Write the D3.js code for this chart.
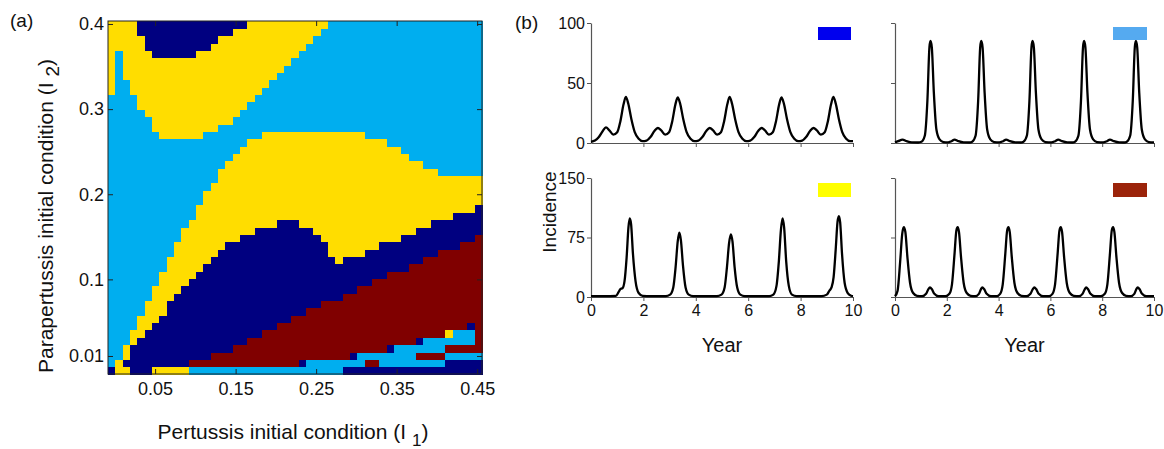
<!DOCTYPE html>
<html><head><meta charset="utf-8">
<script src="https://cdn.jsdelivr.net/npm/d3@7"></script>
<style>
body{margin:0;background:#fff}
svg text{font-family:"Liberation Sans",Arial,Helvetica,sans-serif;fill:#111}
</style>
</head><body>
<svg id="c" width="1164" height="449"></svg>
<script>
// ---------------- Panel (a) data ----------------
const NCOL = 51, NROW = 48;
const xTicksA = [0.05, 0.15, 0.25, 0.35, 0.45];
const yTicksA = [0.01, 0.1, 0.2, 0.3, 0.4];
// per column (I1 index), first row index (from bottom) of each zone
const maroonTop = [0,0,0,0,0,0,0,0,0,0,0, 2,2,2,3,3,3,4,4,5,5,6,6,7,7,8,8,9,9,10,10,10,11,11,12,12,13,13,14,14,14,15,15,16,16,17,17,17,18,18,19];
const navyTop = [1,0,2,4,5,6,7,8,10,11,12, 13,14,15,16,17,18,18,19,19,20, 20,20,21,21,21,20,20,19,18,16, 15,16,16,16,17,17,18,18,18,19, 19,20,20,21,21,21,22,22,22,23];
const yellowTop = [1,2,4,6,8,10,12,14,16,18,20, 21,23,25,26,28,29,30,31,32,32, 33,33,33,33,33,33,33,33,33,33,33,33,33,33, 32,32,32,31,31,30,29,29,28,28, 27,27,27,27,27,27];
const upperYellowBottom = [38,44,40,38,36,35,33,32,32,32,32,32,32,33,33,34,34,35,36,37,38,39,40,41,42,43,44,45,46,47,
  48,48,48,48,48,48,48,48,48,48,48,48,48,48,48,48,48,48,48,48,48];
const topNavyBottom = [48,48,48,48,46,44,43,43,43,43,43,43,44,44,45,46,46,47,47,
  48,48,48,48,48,48,48,48,48,48,48,48,48,48,48,48,48,48,48,48,48,48,48,48,48,48,48,48,48,48,48,48];
// irregular cells in the bottom rows (run lengths, '.' = regular zone)
const bottomRuns = [
  [['.',1],['Y',2],['.',3],['Y',5],['L',21],['D',19]],
  [['.',26],['D',1],['L',8],['.',2],['L',9],['D',5]],
  [['.',33],['D',1],['L',8],['.',4],['L',5]],
  [['.',38],['D',1],['L',7],['.',5]],
  [['.',42],['D',1],['L',7],['.',1]],
  [['.',46],['Y',1],['L',3],['.',1]],
  [['.',49],['D',1],['.',1]]
];
const zoneColors = {D:'#000080', L:'#00aeef', Y:'#ffdd00', M:'#800000'};

// ---------------- Panel (b) data ----------------
const yearTicks = [0,2,4,6,8,10];
const tBlue = [0,0.15,0.3,0.45,0.57,0.7,0.85,1.0,1.12,1.24,1.33,1.42,1.54,1.67,1.82,1.97,
  2.12,2.27,2.42,2.55,2.68,2.83,2.98,3.1,3.22,3.31,3.4,3.52,3.65,3.8,3.95,
  4.1,4.25,4.4,4.53,4.66,4.81,4.96,5.08,5.2,5.29,5.38,5.5,5.63,5.78,5.93,
  6.08,6.23,6.38,6.51,6.64,6.79,6.94,7.06,7.18,7.27,7.36,7.48,7.61,7.76,7.91,
  8.06,8.21,8.36,8.49,8.62,8.77,8.92,9.04,9.16,9.25,9.34,9.46,9.59,9.74,9.89,10];
const vBlue = [1,2,5,10,13,10.5,7,9,18,32,38.5,33,20,9,3.5,1.5,
  2,5,10,12.5,10.5,7,9,18,32,38,33,20,9,3.5,1.5,
  2,5,10,12.5,10.5,7,9,18,32,38.5,33,20,9,3.5,1.5,
  2,5,10,12.5,10.5,7,9,18,32,38,33,20,9,3.5,1.5,
  2,5,10,12.5,10.5,7,9,18,32,38.5,33,20,9,3.5,1.5,1.5];
const tLight = [0,0.12,0.29,0.45,0.65,
  0.9,1.02,1.15,1.25,1.33,1.37,1.42,1.5,1.6,1.72,1.87,2.05,2.18,2.3,2.45,2.65,
  2.88,2.98,3.11,3.21,3.29,3.33,3.38,3.46,3.56,3.68,3.83,4.03,4.17,4.29,4.44,4.64,
  4.86,4.96,5.09,5.19,5.27,5.31,5.36,5.44,5.54,5.66,5.81,6.04,6.18,6.3,6.45,6.65,
  6.85,6.95,7.08,7.18,7.26,7.3,7.35,7.43,7.53,7.65,7.8,8.04,8.18,8.3,8.45,8.65,
  8.85,8.95,9.08,9.18,9.26,9.3,9.35,9.43,9.53,9.65,9.8,10];
const vLight = [0.5,1.5,2.8,1.5,0.5,
  0.4,1,6,35,80,85,80,42,11,3,0.8,0.5,1.5,2.8,1.5,0.5,
  0.4,1,6,35,80,85,80,42,11,3,0.8,0.5,1.5,2.8,1.5,0.5,
  0.4,1,6,35,80,85,80,42,11,3,0.8,0.5,1.5,2.8,1.5,0.5,
  0.4,1,6,35,80,85,80,42,11,3,0.8,0.5,1.5,2.8,1.5,0.5,
  0.4,1,6,35,80,85,80,42,11,3,0.8,0.5];
const tYellow = [0,0.5,0.95,1.05,1.12,1.2,1.28,1.36,1.43,1.48,1.53,1.6,1.7,1.82,1.97,2.3,
  2.85,3.02,3.14,3.23,3.31,3.37,3.43,3.51,3.61,3.73,3.9,4.3,
  4.8,4.98,5.1,5.19,5.27,5.34,5.4,5.48,5.58,5.7,5.87,6.3,
  6.8,6.96,7.08,7.17,7.25,7.31,7.37,7.45,7.55,7.67,7.85,8.3,
  8.8,9.0,9.1,9.18,9.26,9.34,9.41,9.46,9.51,9.58,9.68,9.8,9.93,10];
const vYellow = [1,1,1.5,6,10,11,20,50,88,99,92,55,20,5,1.5,1,
  1,3,12,38,70,81,72,40,12,3,1,1,
  1,3,12,38,68,79,70,38,12,3,1,1,
  1,3,14,45,85,99,88,45,14,3,1,1,
  1,3,8,12,25,60,95,102,94,55,18,5,1.5,1];
const tMaroon = [0,0.1,0.2,0.28,0.34,0.4,0.48,0.58,0.7,0.85,1.05,1.2,1.29,1.35,1.42,1.52,1.68,
  1.95,2.1,2.2,2.3,2.37,2.42,2.47,2.55,2.65,2.77,2.92,3.1,3.24,3.32,3.37,3.44,3.54,3.7,
  3.92,4.06,4.16,4.26,4.33,4.38,4.43,4.51,4.61,4.73,4.88,5.08,5.23,5.32,5.38,5.45,5.55,5.71,
  5.94,6.08,6.18,6.28,6.35,6.4,6.45,6.53,6.63,6.75,6.9,7.1,7.24,7.33,7.38,7.45,7.55,7.71,
  7.95,8.1,8.2,8.3,8.37,8.42,8.47,8.55,8.65,8.77,8.92,9.1,9.24,9.32,9.37,9.44,9.54,9.7,10];
const vMaroon = [1,8,45,80,88,82,50,18,5,1.5,1,4,10,12,10,4,1,
  1,4,16,55,84,88,82,50,18,5,1.5,1,4,10,12,10,4,1,
  1,4,16,55,84,88,82,50,18,5,1.5,1,4,10,12,10,4,1,
  1,4,16,55,84,88,82,50,18,5,1.5,1,4,10,12,10,4,1,
  1,4,16,55,84,88,82,50,18,5,1.5,1,4,10,12,10,4,1,1];

// ---------------- build grid ----------------
const bottomRows = bottomRuns.map(runs => runs.flatMap(([k,n]) => Array(n).fill(k)));
const cells = [];
for (let c = 0; c < NCOL; c++) {
  for (let r = 0; r < NROW; r++) {
    const o = r < bottomRows.length ? bottomRows[r][c] : '.';
    let k;
    if (o !== '.') k = o;
    else if (r < maroonTop[c]) k = 'M';
    else if (r < navyTop[c]) k = 'D';
    else if (r < yellowTop[c]) k = 'Y';
    else if (r < upperYellowBottom[c]) k = 'L';
    else if (r < topNavyBottom[c]) k = 'Y';
    else k = 'D';
    cells.push({c, r, k});
  }
}

const svg = d3.select('#c');
const AX = '#222';

// ---------------- panel (a) ----------------
const L0 = 108, R0 = 482, T0 = 21, B0 = 374;
const gx = d3.scaleBand().domain(d3.range(NCOL)).range([L0, R0]);
const gy = d3.scaleBand().domain(d3.range(NROW)).range([B0, T0]);
const hx = d3.scaleLinear().domain([-0.0085, 0.456]).range([L0, R0]);
const hy = d3.scaleLinear().domain([-0.01115, 0.4035]).range([B0, T0]);

svg.append('g').attr('shape-rendering','crispEdges')
  .selectAll('rect').data(cells).join('rect')
  .attr('x', d => gx(d.c)).attr('y', d => gy(d.r))
  .attr('width', gx.bandwidth() + 0.6).attr('height', gy.bandwidth() + 0.6)
  .attr('fill', d => zoneColors[d.k]);

function styleAxis(g, fs) {
  g.select('.domain').remove();
  g.selectAll('.tick line').attr('stroke', AX);
  g.selectAll('.tick text').attr('font-size', fs).attr('fill', '#111')
    .attr('font-family', '"Liberation Sans",Arial,sans-serif');
  g.attr('font-family', null).attr('font-size', null);
}
svg.append('g').attr('transform', `translate(0,${B0})`)
  .call(d3.axisBottom(hx).tickValues(xTicksA).tickFormat(d => String(d)).tickSize(-5).tickPadding(8))
  .call(g => styleAxis(g, 18));
svg.append('g').attr('transform', `translate(0,${T0})`)
  .call(d3.axisTop(hx).tickValues(xTicksA).tickFormat('').tickSize(-5))
  .call(g => styleAxis(g, 18));
svg.append('g').attr('transform', `translate(${L0},0)`)
  .call(d3.axisLeft(hy).tickValues(yTicksA).tickFormat(d => String(d)).tickSize(-5).tickPadding(4))
  .call(g => styleAxis(g, 18));
svg.append('g').attr('transform', `translate(${R0},0)`)
  .call(d3.axisRight(hy).tickValues(yTicksA).tickFormat('').tickSize(-5))
  .call(g => styleAxis(g, 18));
svg.append('rect').attr('x', L0).attr('y', T0).attr('width', R0 - L0).attr('height', B0 - T0)
  .attr('fill', 'none').attr('stroke', AX).attr('stroke-width', 1);

svg.append('text').attr('x', 10).attr('y', 27).attr('font-size', 19).text('(a)');
const xl = svg.append('text').attr('x', 293).attr('y', 439).attr('text-anchor', 'middle').attr('font-size', 21);
xl.append('tspan').text('Pertussis initial condition (I ');
xl.append('tspan').attr('dy', 7).attr('font-size', 17).text('1');
xl.append('tspan').attr('dy', -7).text(')');
const yl = svg.append('text').attr('transform', 'translate(53,216) rotate(-90)').attr('text-anchor', 'middle').attr('font-size', 21);
yl.append('tspan').text('Parapertussis initial condition (I ');
yl.append('tspan').attr('dy', 6).attr('font-size', 19).text('2');
yl.append('tspan').attr('dy', -6).text(')');

// ---------------- panel (b) ----------------
svg.append('text').attr('x', 515).attr('y', 29).attr('font-size', 19).text('(b)');
const panels = [
  {t: tBlue,   v: vBlue,   x0: 591, x1: 853,  y0: 143, y1: 23,  max: 100, yt: [0,50,100], ylab: true,  xlab: false, box: '#0000ee', bx: [818,851], by: [27,40]},
  {t: tLight,  v: vLight,  x0: 895, x1: 1154, y0: 143, y1: 23,  max: 100, yt: [0,50,100], ylab: false, xlab: false, box: '#55aaf0', bx: [1113,1147], by: [27,40]},
  {t: tYellow, v: vYellow, x0: 591, x1: 853,  y0: 297, y1: 178, max: 150, yt: [0,75,150], ylab: true,  xlab: true,  box: '#ffff00', bx: [818,851], by: [183,197]},
  {t: tMaroon, v: vMaroon, x0: 895, x1: 1154, y0: 297, y1: 178, max: 150, yt: [0,75,150], ylab: false, xlab: true,  box: '#9b230a', bx: [1113,1147], by: [183,197]}
];
panels.forEach(p => {
  const x = d3.scaleLinear().domain([0, 10]).range([p.x0, p.x1]);
  const y = d3.scaleLinear().domain([0, p.max]).range([p.y0, p.y1]);
  const g = svg.append('g');
  const ya = g.append('g').attr('transform', `translate(${p.x0},0)`)
    .call(d3.axisLeft(y).tickValues(p.yt).tickSizeInner(4).tickSizeOuter(0).tickPadding(2)
      .tickFormat(p.ylab ? (d => String(d)) : ''));
  const xa = g.append('g').attr('transform', `translate(0,${p.y0})`)
    .call(d3.axisBottom(x).tickValues(p.xlab ? yearTicks : yearTicks.slice(1)).tickSizeInner(4).tickSizeOuter(0).tickPadding(4)
      .tickFormat(p.xlab ? (d => String(d)) : ''));
  [ya, xa].forEach(a => {
    a.attr('font-family', null).attr('font-size', null);
    a.select('.domain').attr('stroke', '#555').attr('stroke-width', 1.2);
    a.selectAll('.tick line').attr('stroke', '#555');
    a.selectAll('.tick text').attr('font-size', 16).attr('fill', '#111')
      .attr('font-family', '"Liberation Sans",Arial,sans-serif');
  });
  g.append('path').datum(p.t.map((t, i) => [t, p.v[i]]))
    .attr('d', d3.line().x(d => x(d[0])).y(d => y(d[1])).curve(d3.curveMonotoneX))
    .attr('fill', 'none').attr('stroke', '#000').attr('stroke-width', 2.3)
    .attr('stroke-linejoin', 'round');
  g.append('rect').attr('x', p.bx[0]).attr('y', p.by[0])
    .attr('width', p.bx[1] - p.bx[0]).attr('height', p.by[1] - p.by[0]).attr('fill', p.box);
  if (p.xlab) {
    g.append('text').attr('x', (p.x0 + p.x1) / 2).attr('y', 352).attr('text-anchor', 'middle')
      .attr('font-size', 20).text('Year');
  }
});
svg.append('text').attr('transform', 'translate(556,212) rotate(-90)').attr('text-anchor', 'middle')
  .attr('font-size', 19).text('Incidence');
</script>
</body></html>
